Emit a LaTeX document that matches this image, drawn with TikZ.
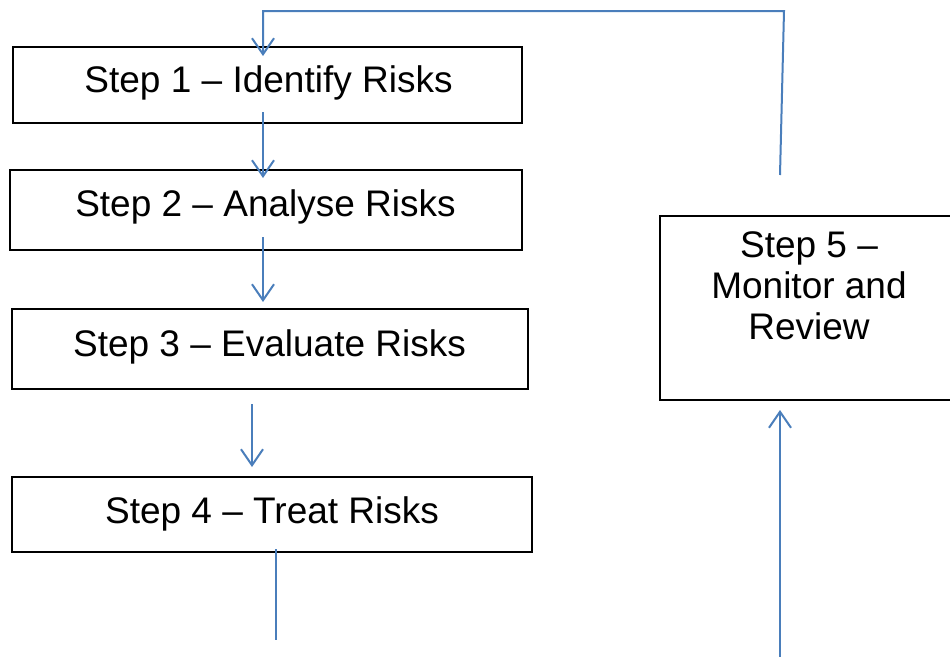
\documentclass[tikz,border=0pt]{standalone}
\usepackage{fontspec}
\setmainfont{Liberation Sans}
\usetikzlibrary{arrows.meta}
\definecolor{flowblue}{HTML}{4A7EBB}
\begin{document}
\begin{tikzpicture}[x=1pt,y=-1pt,
  box/.style={draw=black,line width=1.5pt,inner sep=0pt,fill=none},
  lbl/.style={anchor=base,inner sep=0pt,font=\fontsize{37}{41}\selectfont},
  conn/.style={draw=flowblue,line width=2pt},
  arr/.style={conn,-{Straight Barb[length=16pt,width=22pt,line width=2pt]}}]
\useasboundingbox (0,0) rectangle (950,656);
% boxes
\node[box,minimum width=509pt,minimum height=76pt] (b1) at (267.5,85) {};
\node[box,minimum width=512pt,minimum height=80pt] (b2) at (266,210) {};
\node[box,minimum width=516pt,minimum height=80pt] (b3) at (270,349) {};
\node[box,minimum width=520pt,minimum height=75pt] (b4) at (272,514.5) {};
\node[box,minimum width=298pt,minimum height=184pt] (b5) at (809,308) {};
% labels
\node[lbl] (t1) at (268.5,92) {Step 1 – Identify Risks};
\node[lbl] (t2) at (265.5,216) {Step 2 – Analyse Risks};
\node[lbl] (t3) at (269.5,356) {Step 3 – Evaluate Risks};
\node[lbl] (t4) at (272,523) {Step 4 – Treat Risks};
\node[lbl] (t5a) at (809,257) {Step 5 –};
\node[lbl] (t5b) at (809,298) {Monitor and};
\node[lbl] (t5c) at (809,339) {Review};
% connector points
\coordinate (a1s) at (263,112);
\coordinate (a1e) at (263,178);
\coordinate (a2s) at (263,237);
\coordinate (a2e) at (263,302);
\coordinate (a3s) at (252,404);
\coordinate (a3e) at (252,467);
\coordinate (l4s) at (276,549);
\coordinate (l4e) at (276,640);
\coordinate (u5s) at (780,660);
\coordinate (u5e) at (780,410);
\coordinate (r5s) at (780,175);
\coordinate (r5t) at (784,11);
\coordinate (lt) at (263,11);
\coordinate (le) at (263,56);
% connectors
\draw[arr] (a1s) -- (a1e);
\draw[arr] (a2s) -- (a2e);
\draw[arr] (a3s) -- (a3e);
\draw[conn] (l4s) -- (l4e);
\draw[arr] (u5s) -- (u5e);
\draw[arr] (r5s) -- (r5t) -- (lt) -- (le);
\end{tikzpicture}
\end{document}
